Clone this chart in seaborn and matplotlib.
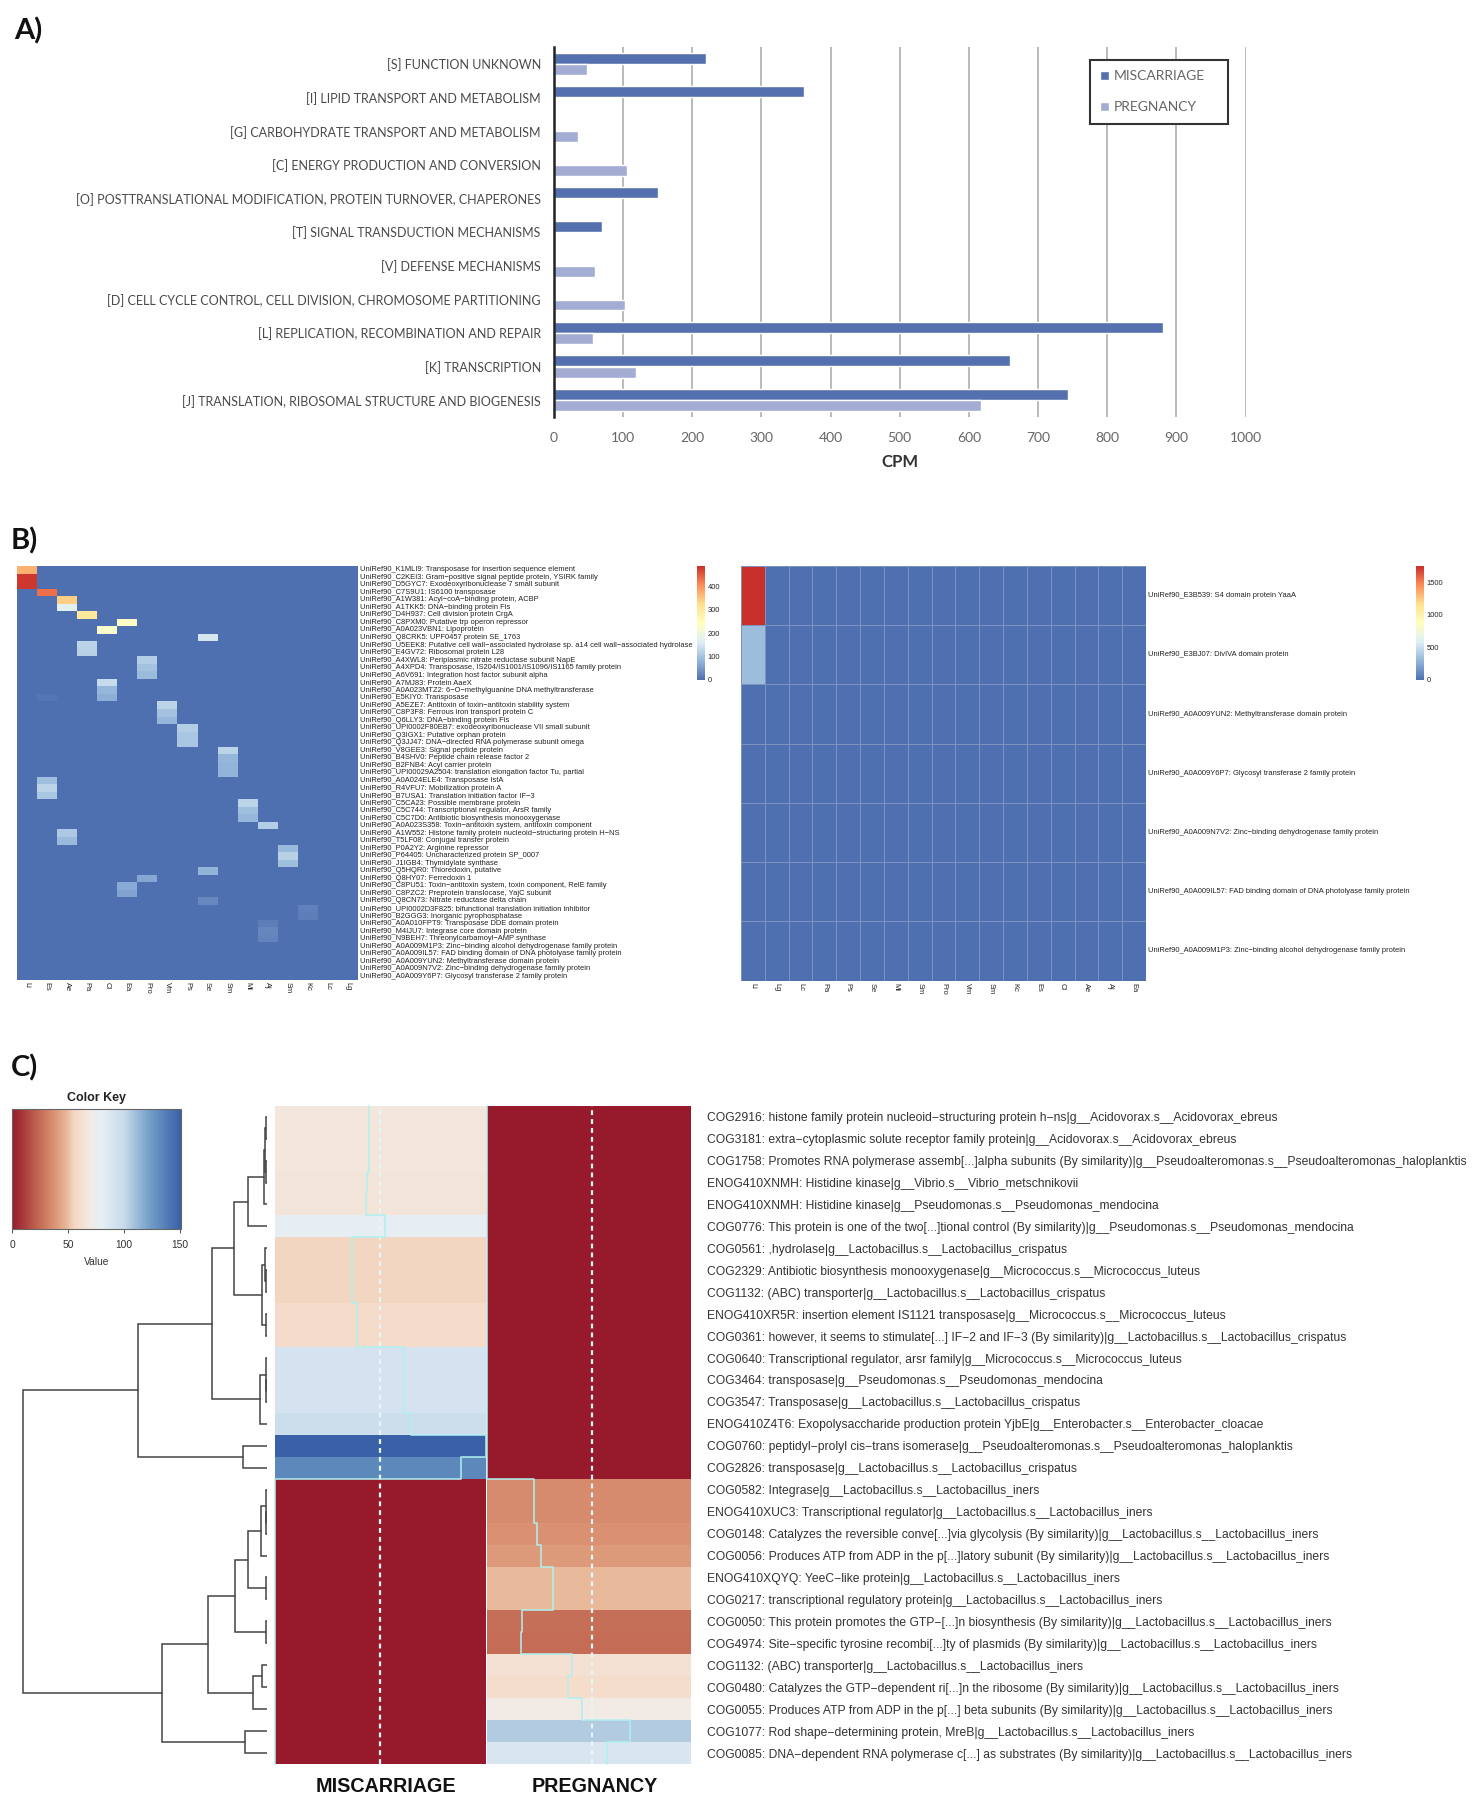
import numpy as np
import pandas as pd
import matplotlib
matplotlib.use("Agg")
import matplotlib.pyplot as plt
from matplotlib.colors import LinearSegmentedColormap, Normalize
from matplotlib.cm import ScalarMappable
from matplotlib.transforms import ScaledTranslation
import seaborn as sns

sns.set_style("white")
W, H = 1475, 1800
fig = plt.figure(figsize=(W / 100, H / 100), dpi=100, facecolor="white")


def px_axes(x0, y0, x1, y1):
    return fig.add_axes([x0 / W, 1 - y1 / H, (x1 - x0) / W, (y1 - y0) / H])


# ---------- Panel A data ----------
cog_categories = [
    "[S] FUNCTION UNKNOWN", "[I] LIPID TRANSPORT AND METABOLISM",
    "[G] CARBOHYDRATE TRANSPORT AND METABOLISM", "[C] ENERGY PRODUCTION AND CONVERSION",
    "[O] POSTTRANSLATIONAL MODIFICATION, PROTEIN TURNOVER, CHAPERONES",
    "[T] SIGNAL TRANSDUCTION MECHANISMS", "[V] DEFENSE MECHANISMS",
    "[D] CELL CYCLE CONTROL, CELL DIVISION, CHROMOSOME PARTITIONING",
    "[L] REPLICATION, RECOMBINATION AND REPAIR", "[K] TRANSCRIPTION",
    "[J] TRANSLATION, RIBOSOMAL STRUCTURE AND BIOGENESIS",
]
cpm_miscarriage = [220, 361, 0, 0, 151, 69, 0, 0, 880, 660, 744]
cpm_pregnancy = [47, 0, 35, 106, 0, 0, 60, 103, 57, 119, 617]
cpm_ticks = [0, 100, 200, 300, 400, 500, 600, 700, 800, 900, 1000]

# ---------- Panel B data ----------
b_left_columns = ["Li", "Es", "Ae", "Pa", "Cl", "Ea", "Pro", "Vm", "Ps", "Se", "Sm",
                  "Mi", "Aj", "Sm", "Kc", "Lc", "Lg"]
b_left_rows = [
    "UniRef90_K1MLI9: Transposase for insertion sequence element",
    "UniRef90_C2KEI3: Gram−positive signal peptide protein, YSIRK family",
    "UniRef90_D5GYC7: Exodeoxyribonuclease 7 small subunit",
    "UniRef90_C7S9U1: IS6100 transposase",
    "UniRef90_A1W381: Acyl−coA−binding protein, ACBP",
    "UniRef90_A1TKK5: DNA−binding protein Fis",
    "UniRef90_D4H937: Cell division protein CrgA",
    "UniRef90_C8PXM0: Putative trp operon repressor",
    "UniRef90_A0A023VBN1: Lipoprotein",
    "UniRef90_Q8CRK5: UPF0457 protein SE_1763",
    "UniRef90_U5EEK8: Putative cell wall−associated hydrolase sp. a14 cell wall−associated hydrolase",
    "UniRef90_E4GV72: Ribosomal protein L28",
    "UniRef90_A4XWL8: Periplasmic nitrate reductase subunit NapE",
    "UniRef90_A4XPD4: Transposase, IS204/IS1001/IS1096/IS1165 family protein",
    "UniRef90_A6V691: Integration host factor subunit alpha",
    "UniRef90_A7MJ83: Protein AaeX",
    "UniRef90_A0A023MTZ2: 6−O−methylguanine DNA methyltransferase",
    "UniRef90_E5KIY0: Transposase",
    "UniRef90_A5EZE7: Antitoxin of toxin−antitoxin stability system",
    "UniRef90_C8P3F8: Ferrous iron transport protein C",
    "UniRef90_Q6LLY3: DNA−binding protein Fis",
    "UniRef90_UPI0002F80EB7: exodeoxyribonuclease VII small subunit",
    "UniRef90_Q3IGX1: Putative orphan protein",
    "UniRef90_Q3JJ47: DNA−directed RNA polymerase subunit omega",
    "UniRef90_V8GEE3: Signal peptide protein",
    "UniRef90_B4SHV0: Peptide chain release factor 2",
    "UniRef90_B2FNB4: Acyl carrier protein",
    "UniRef90_UPI00029A2504: translation elongation factor Tu, partial",
    "UniRef90_A0A024ELE4: Transposase IstA",
    "UniRef90_R4VFU7: Mobilization protein A",
    "UniRef90_B7USA1: Translation initiation factor IF−3",
    "UniRef90_C5CA23: Possible membrane protein",
    "UniRef90_C5C744: Transcriptional regulator, ArsR family",
    "UniRef90_C5C7D0: Antibiotic biosynthesis monooxygenase",
    "UniRef90_A0A023S358: Toxin−antitoxin system, antitoxin component",
    "UniRef90_A1W552: Histone family protein nucleoid−structuring protein H−NS",
    "UniRef90_T5LF08: Conjugal transfer protein",
    "UniRef90_P0A2Y2: Arginine repressor",
    "UniRef90_P64405: Uncharacterized protein SP_0007",
    "UniRef90_J1IGB4: Thymidylate synthase",
    "UniRef90_Q5HQR0: Thioredoxin, putative",
    "UniRef90_Q8HY07: Ferredoxin 1",
    "UniRef90_C8PU51: Toxin−antitoxin system, toxin component, RelE family",
    "UniRef90_C8PZC2: Preprotein translocase, YajC subunit",
    "UniRef90_Q8CN73: Nitrate reductase delta chain",
    "UniRef90_UPI0002D3F825: bifunctional translation initiation inhibitor",
    "UniRef90_B2GGG3: Inorganic pyrophosphatase",
    "UniRef90_A0A010FPT9: Transposase DDE domain protein",
    "UniRef90_M4IJU7: Integrase core domain protein",
    "UniRef90_N9BEH7: Threonylcarbamoyl−AMP synthase",
    "UniRef90_A0A009M1P3: Zinc−binding alcohol dehydrogenase family protein",
    "UniRef90_A0A009IL57: FAD binding domain of DNA photolyase family protein",
    "UniRef90_A0A009YUN2: Methyltransferase domain protein",
    "UniRef90_A0A009N7V2: Zinc−binding dehydrogenase family protein",
    "UniRef90_A0A009Y6P7: Glycosyl transferase 2 family protein",
]
# column holding the abundant value of every row, and that value
b_left_hit_column = [0, 0, 0, 1, 2, 2, 3, 5, 4, 9, 3, 3, 6, 6, 6, 4, 4, 4, 7, 7, 7, 8, 8, 8,
                     10, 10, 10, 10, 1, 1, 1, 11, 11, 11, 12, 2, 2, 13, 13, 13, 9, 6, 5, 5,
                     9, 14, 14, 12, 12, 12, 0, 0, 0, 0, 0]
b_left_hit_value = [370, 480, 480, 430, 340, 170, 300, 235, 225, 150, 125, 120, 115, 100, 90,
                    135, 85, 75, 125, 100, 85, 115, 105, 105, 125, 85, 80, 80, 95, 125, 105,
                    125, 95, 85, 115, 110, 90, 90, 120, 95, 80, 65, 70, 60, 30, 20, 16, 16,
                    28, 24, 0, 0, 0, 0, 0]

b_right_columns = ["Li", "Lg", "Lc", "Pa", "Ps", "Se", "Mi", "Sm", "Pro", "Vm", "Sm", "Kc",
                   "Es", "Cl", "Ae", "Aj", "Ea"]
b_right_rows = [
    "UniRef90_E3B539: S4 domain protein YaaA",
    "UniRef90_E3BJ07: DivIVA domain protein",
    "UniRef90_A0A009YUN2: Methyltransferase domain protein",
    "UniRef90_A0A009Y6P7: Glycosyl transferase 2 family protein",
    "UniRef90_A0A009N7V2: Zinc−binding dehydrogenase family protein",
    "UniRef90_A0A009IL57: FAD binding domain of DNA photolyase family protein",
    "UniRef90_A0A009M1P3: Zinc−binding alcohol dehydrogenase family protein",
]
b_right_first_column = [1745, 330, 0, 0, 0, 0, 0]

# ---------- Panel C data ----------
c_rows = [
    "COG2916: histone family protein nucleoid−structuring protein h−ns|g__Acidovorax.s__Acidovorax_ebreus",
    "COG3181: extra−cytoplasmic solute receptor family protein|g__Acidovorax.s__Acidovorax_ebreus",
    "COG1758: Promotes RNA polymerase assemb[...]alpha subunits (By similarity)|g__Pseudoalteromonas.s__Pseudoalteromonas_haloplanktis",
    "ENOG410XNMH: Histidine kinase|g__Vibrio.s__Vibrio_metschnikovii",
    "ENOG410XNMH: Histidine kinase|g__Pseudomonas.s__Pseudomonas_mendocina",
    "COG0776: This protein is one of the two[...]tional control (By similarity)|g__Pseudomonas.s__Pseudomonas_mendocina",
    "COG0561: ,hydrolase|g__Lactobacillus.s__Lactobacillus_crispatus",
    "COG2329: Antibiotic biosynthesis monooxygenase|g__Micrococcus.s__Micrococcus_luteus",
    "COG1132: (ABC) transporter|g__Lactobacillus.s__Lactobacillus_crispatus",
    "ENOG410XR5R: insertion element IS1121 transposase|g__Micrococcus.s__Micrococcus_luteus",
    "COG0361: however, it seems to stimulate[...] IF−2 and IF−3 (By similarity)|g__Lactobacillus.s__Lactobacillus_crispatus",
    "COG0640: Transcriptional regulator, arsr family|g__Micrococcus.s__Micrococcus_luteus",
    "COG3464: transposase|g__Pseudomonas.s__Pseudomonas_mendocina",
    "COG3547: Transposase|g__Lactobacillus.s__Lactobacillus_crispatus",
    "ENOG410Z4T6: Exopolysaccharide production protein YjbE|g__Enterobacter.s__Enterobacter_cloacae",
    "COG0760: peptidyl−prolyl cis−trans isomerase|g__Pseudoalteromonas.s__Pseudoalteromonas_haloplanktis",
    "COG2826: transposase|g__Lactobacillus.s__Lactobacillus_crispatus",
    "COG0582: Integrase|g__Lactobacillus.s__Lactobacillus_iners",
    "ENOG410XUC3: Transcriptional regulator|g__Lactobacillus.s__Lactobacillus_iners",
    "COG0148: Catalyzes the reversible conve[...]via glycolysis (By similarity)|g__Lactobacillus.s__Lactobacillus_iners",
    "COG0056: Produces ATP from ADP in the p[...]latory subunit (By similarity)|g__Lactobacillus.s__Lactobacillus_iners",
    "ENOG410XQYQ: YeeC−like protein|g__Lactobacillus.s__Lactobacillus_iners",
    "COG0217: transcriptional regulatory protein|g__Lactobacillus.s__Lactobacillus_iners",
    "COG0050: This protein promotes the GTP−[...]n biosynthesis (By similarity)|g__Lactobacillus.s__Lactobacillus_iners",
    "COG4974: Site−specific tyrosine recombi[...]ty of plasmids (By similarity)|g__Lactobacillus.s__Lactobacillus_iners",
    "COG1132: (ABC) transporter|g__Lactobacillus.s__Lactobacillus_iners",
    "COG0480: Catalyzes the GTP−dependent ri[...]n the ribosome (By similarity)|g__Lactobacillus.s__Lactobacillus_iners",
    "COG0055: Produces ATP from ADP in the p[...] beta subunits (By similarity)|g__Lactobacillus.s__Lactobacillus_iners",
    "COG1077: Rod shape−determining protein, MreB|g__Lactobacillus.s__Lactobacillus_iners",
    "COG0085: DNA−dependent RNA polymerase c[...] as substrates (By similarity)|g__Lactobacillus.s__Lactobacillus_iners",
]
c_miscarriage = [67, 67, 67, 66, 65, 79, 55, 55, 55, 59, 59, 92, 92, 92, 97, 151, 133,
                 0, 0, 0, 0, 0, 0, 0, 0, 0, 0, 0, 0, 0]
c_pregnancy = [0, 0, 0, 0, 0, 0, 0, 0, 0, 0, 0, 0, 0, 0, 0, 0, 0,
               35, 35, 37, 40, 49, 49, 26, 25, 63, 60, 70, 106, 89]
c_vmax = 151
c_vline = [75, 78]
c_key_ticks = [0, 50, 100, 150]
# dendrogram: (height, upper child, lower child), integers are leaves (row index)
c_tree = (244,
          (129,
           (55,
            (33,
             (19, (3, (2, (1, 0, 1), (1, 2, 3)), 4), 5),
             (5, (2, 6, (1.2, 7, 8)), (1.5, 9, 10))),
            (7, (1.5, 11, (1, 12, 13)), 14)),
           (24, 15, 16)),
          (105,
           (59,
            (32,
             (19, (6, (1.5, 17, (1, 18, 19)), 20), (1, 21, 22)),
             (1.5, 23, 24)),
            (14, (5, 25, 26), 27)),
           (22, 28, 29)))

# ---------- colours ----------
dark_bar, light_bar = "#5470ae", "#a3add3"
heat_cmap = LinearSegmentedColormap.from_list(
    "heat", ["#4f70b0", "#93b5da", "#dfeff5", "#FFFFBF", "#FEE090", "#FC8D59", "#C9302B"])
key_anchor_values = [0, 25, 37, 49, 55, 60, 70, 80, 100, 125, 151]
key_anchor_colours = ["#971a2c", "#c46c55", "#da9273", "#e8b899", "#f3d6c1", "#f5ddcc", "#f2eae5",
                      "#e6eff5", "#c8daea", "#6d9ac6", "#3a60a8"]
key_cmap = LinearSegmentedColormap.from_list(
    "key", [(v / c_vmax, c) for v, c in zip(key_anchor_values, key_anchor_colours)])

# ---------- Panel A ----------
ax = px_axes(554, 47, 1245.5, 417)
df_a = pd.DataFrame({
    "category": cog_categories * 2,
    "cpm": cpm_miscarriage + cpm_pregnancy,
    "group": ["MISCARRIAGE"] * len(cog_categories) + ["PREGNANCY"] * len(cog_categories),
})
ax.set_axisbelow(True)
sns.barplot(data=df_a, y="category", x="cpm", hue="group", ax=ax, width=0.68, gap=0.04,
            palette=[dark_bar, light_bar], saturation=1, legend=True)
ax.set_xlim(0, 1000)
ax.set_ylim(len(cog_categories) - 0.5, -0.5)
ax.set_xticks(cpm_ticks)
ax.set_xlabel("CPM", fontsize=12, fontweight="bold", family="Lato", color="#333333", labelpad=7)
ax.set_ylabel("")
ax.grid(axis="x", color="#b4b4b4", lw=1.3)
ax.grid(axis="y", visible=False)
ax.tick_params(axis="x", length=0, pad=11, labelsize=10, labelcolor="#666666")
ax.tick_params(axis="y", length=0, pad=9.5, labelsize=9.0, labelcolor="#4a4a4a")
for t in ax.get_xticklabels() + ax.get_yticklabels():
    t.set_family("Lato")
for s in ["top", "right", "bottom"]:
    ax.spines[s].set_visible(False)
ax.spines["left"].set_color("#222222")
ax.spines["left"].set_linewidth(1.8)
handles, labels = ax.get_legend_handles_labels()
ax.legend(handles, labels, loc="upper left",
          bbox_to_anchor=(1090 / W, 1 - 122 / H, 138 / W, 62 / H),
          bbox_transform=fig.transFigure, mode="expand", frameon=True, fancybox=False,
          edgecolor="#333333", framealpha=1, handlelength=0.6, handleheight=0.6,
          labelspacing=1.35, borderpad=0.75, handletextpad=0.35, borderaxespad=0,
          prop={"family": "Lato", "size": 10})
ax.get_legend().get_frame().set_linewidth(1.5)
for t in ax.get_legend().get_texts():
    t.set_color("#666666")

# ---------- Panel B ----------
small = dict(family="Liberation Sans", fontsize=5.4, color="#222222")

m_left = pd.DataFrame(np.zeros((len(b_left_rows), len(b_left_columns))),
                      index=b_left_rows, columns=range(len(b_left_columns)))
for r, (c, v) in enumerate(zip(b_left_hit_column, b_left_hit_value)):
    m_left.iloc[r, c] = v
m_left.iloc[17, 1] = 8

ax = px_axes(17, 566, 358, 980)
cax = px_axes(697, 566, 705, 680)
sns.heatmap(m_left, cmap=heat_cmap, vmin=0, vmax=486, ax=ax, cbar_ax=cax,
            xticklabels=b_left_columns, yticklabels=True, cbar_kws={"ticks": [0, 100, 200, 300, 400]})
ax.yaxis.tick_right()
ax.set_yticklabels(b_left_rows, rotation=0, va="center", **small)
ax.set_xticklabels(b_left_columns, rotation=270, ha="center", **small)
ax.tick_params(length=0, pad=1.5)
cax.tick_params(length=0, pad=2, labelsize=5.4, labelcolor="#222222")
for t in cax.get_yticklabels():
    t.set_family("Liberation Sans")

m_right = pd.DataFrame(np.zeros((len(b_right_rows), len(b_right_columns))),
                       index=b_right_rows, columns=range(len(b_right_columns)))
m_right.iloc[:, 0] = b_right_first_column
ax = px_axes(741, 566, 1146, 980.5)
cax = px_axes(1416, 566, 1424, 680)
sns.heatmap(m_right, cmap=heat_cmap, vmin=0, vmax=1750, ax=ax, cbar_ax=cax,
            xticklabels=b_right_columns, yticklabels=True, linewidths=0.4, linecolor="#7d92bd",
            cbar_kws={"ticks": [0, 500, 1000, 1500]})
ax.yaxis.tick_right()
ax.set_yticklabels(b_right_rows, rotation=0, va="center", **small)
ax.set_xticklabels(b_right_columns, rotation=270, ha="center", **small)
ax.tick_params(length=0, pad=1.5)
cax.tick_params(length=0, pad=2, labelsize=5.4, labelcolor="#222222")
for t in cax.get_yticklabels():
    t.set_family("Liberation Sans")

# ---------- Panel C ----------
def c_column(x0, x1, values, vline, ticklabels):
    a = px_axes(x0, 1105.7, x1, 1764)
    col = pd.DataFrame({"v": values}, index=c_rows)
    sns.heatmap(col, cmap=key_cmap, vmin=0, vmax=c_vmax, ax=a, cbar=False,
                xticklabels=False, yticklabels=ticklabels)
    vals = np.asarray(values, float) / c_vmax
    n = len(vals)
    a.plot(np.repeat(vals, 2), np.repeat(np.arange(n + 1), 2)[1:-1],
           color="#b0f0f0", lw=1.3, alpha=0.85, clip_on=False, zorder=4)
    a.axvline(vline / c_vmax, color="#e6f5f6", lw=1.6, ls=(0, (2.2, 1.8)), zorder=3)
    a.tick_params(length=0)
    return a

c_column(275, 486, c_miscarriage, c_vline[0], False)
a = c_column(487, 691, c_pregnancy, c_vline[1], True)
a.yaxis.tick_right()
a.set_yticklabels(c_rows, rotation=0, va="center", family="Liberation Sans",
                  fontsize=8.7, color="#333333")
a.tick_params(axis="y", pad=11.2)
nudge = ScaledTranslation(0, -1.5 / 100, fig.dpi_scale_trans)
for t in a.get_yticklabels():
    t.set_transform(t.get_transform() + nudge)

fig.text(386 / W, 1 - 1787 / H, "MISCARRIAGE", ha="center", va="center", family="Liberation Sans",
         fontweight="bold", fontsize=14.2, color="#111111")
fig.text(595 / W, 1 - 1787 / H, "PREGNANCY", ha="center", va="center", family="Liberation Sans",
         fontweight="bold", fontsize=14.2, color="#111111")

# dendrogram
den = px_axes(10, 1105.7, 267.3, 1764)
den.set_xlim(257.3, 0)
den.set_ylim(len(c_rows), 0)
den.axis("off")

def draw_tree(node):
    if isinstance(node, int):
        return node + 0.5, 0
    h, upper, lower = node
    y0, h0 = draw_tree(upper)
    y1, h1 = draw_tree(lower)
    den.plot([h0, h, h, h1], [y0, y0, y1, y1], color="#444444", lw=1.1, solid_joinstyle="miter")
    return (y0 + y1) / 2, h

draw_tree(c_tree)

# colour key
key = px_axes(12, 1109, 181, 1229)
cb = fig.colorbar(ScalarMappable(Normalize(0, c_vmax), key_cmap), cax=key, orientation="horizontal",
                  ticks=c_key_ticks)
cb.outline.set_edgecolor("#666666")
cb.outline.set_linewidth(0.8)
key.tick_params(axis="x", length=3, width=0.7, color="#555555", pad=5, labelsize=7.4, labelcolor="#333333")
for t in key.get_xticklabels():
    t.set_family("Liberation Sans")
key.set_xlabel("Value", family="Liberation Sans", fontsize=7.4, color="#333333", labelpad=5)
key.set_title("Color Key", family="Liberation Sans", fontweight="bold", fontsize=9, color="#222222", pad=6)

# panel letters
for lab, x, y in [("A)", 14, 31), ("B)", 11, 541), ("C)", 11, 1068)]:
    fig.text(x / W, 1 - y / H, lab, family="Lato", fontweight="bold", fontsize=21, va="center", ha="left",
             color="#111111")

fig.savefig("out.png", dpi=100, facecolor="white")
